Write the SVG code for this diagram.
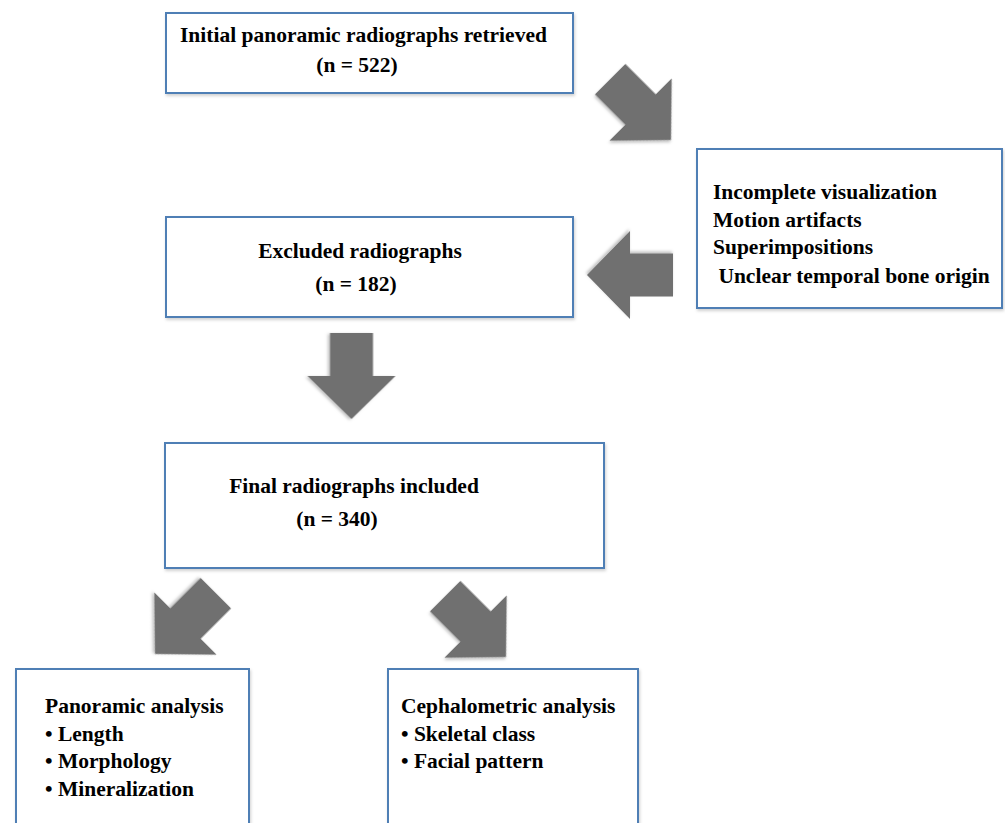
<svg xmlns="http://www.w3.org/2000/svg" width="1005" height="823" viewBox="0 0 1005 823">
<defs>
<style>
.box{fill:#ffffff;stroke:#4f7fb5;stroke-width:2;filter:url(#bsh)}
.t{font-family:"Liberation Serif","Times New Roman",serif;font-weight:bold;font-size:21.5px;fill:#000}
.c{text-anchor:middle}
.arr{fill:#6f6f6f;filter:url(#ash)}
</style>
<filter id="bsh" x="-5%" y="-5%" width="110%" height="115%">
<feDropShadow dx="1" dy="2" stdDeviation="1.5" flood-color="#000" flood-opacity="0.18"/>
</filter>
<filter id="ash" x="-20%" y="-20%" width="140%" height="140%">
<feDropShadow dx="1" dy="2" stdDeviation="1.5" flood-color="#000" flood-opacity="0.25"/>
</filter>
<path id="arrow" d="M0,0 L-43,-44 L-43,-21.5 L-86,-21.5 L-86,21.5 L-43,21.5 L-43,44 Z"/>
</defs>
<rect width="1005" height="823" fill="#ffffff"/>

<g id="connectors">
<use href="#arrow" class="arr" transform="translate(671,140) rotate(45)"/>
<use href="#arrow" class="arr" transform="translate(587,275) rotate(180)"/>
<use href="#arrow" class="arr" transform="translate(351.5,419) rotate(90)"/>
<use href="#arrow" class="arr" transform="translate(155,654) rotate(135)"/>
<use href="#arrow" class="arr" transform="translate(506,657) rotate(45)"/>
</g>

<g id="initial">
<rect class="box" x="166" y="13" width="407" height="80"/>
<text class="t" x="180" y="42">Initial panoramic radiographs retrieved</text>
<text class="t c" x="357" y="72">(n = 522)</text>
</g>

<g id="exclusions">
<rect class="box" x="697" y="149" width="305" height="159"/>
<text class="t" x="713" y="199">Incomplete visualization</text>
<text class="t" x="713" y="227">Motion artifacts</text>
<text class="t" x="713" y="254">Superimpositions</text>
<text class="t" x="713" y="283" xml:space="preserve"> Unclear temporal bone origin</text>
</g>

<g id="excluded">
<rect class="box" x="166" y="217" width="407" height="100"/>
<text class="t c" x="360" y="258">Excluded radiographs</text>
<text class="t c" x="356" y="291">(n = 182)</text>
</g>

<g id="final">
<rect class="box" x="165" y="443" width="439" height="125"/>
<text class="t c" x="354" y="493">Final radiographs included</text>
<text class="t c" x="337" y="526">(n = 340)</text>
</g>

<g id="panoramic">
<rect class="box" x="16" y="669" width="233" height="170"/>
<text class="t" x="45" y="713">Panoramic analysis</text>
<text class="t" x="45" y="741">• Length</text>
<text class="t" x="45" y="768">• Morphology</text>
<text class="t" x="45" y="796">• Mineralization</text>
</g>

<g id="cephalometric">
<rect class="box" x="388" y="669" width="250" height="170"/>
<text class="t" x="401" y="713">Cephalometric analysis</text>
<text class="t" x="401" y="741">• Skeletal class</text>
<text class="t" x="401" y="768">• Facial pattern</text>
</g>
</svg>
